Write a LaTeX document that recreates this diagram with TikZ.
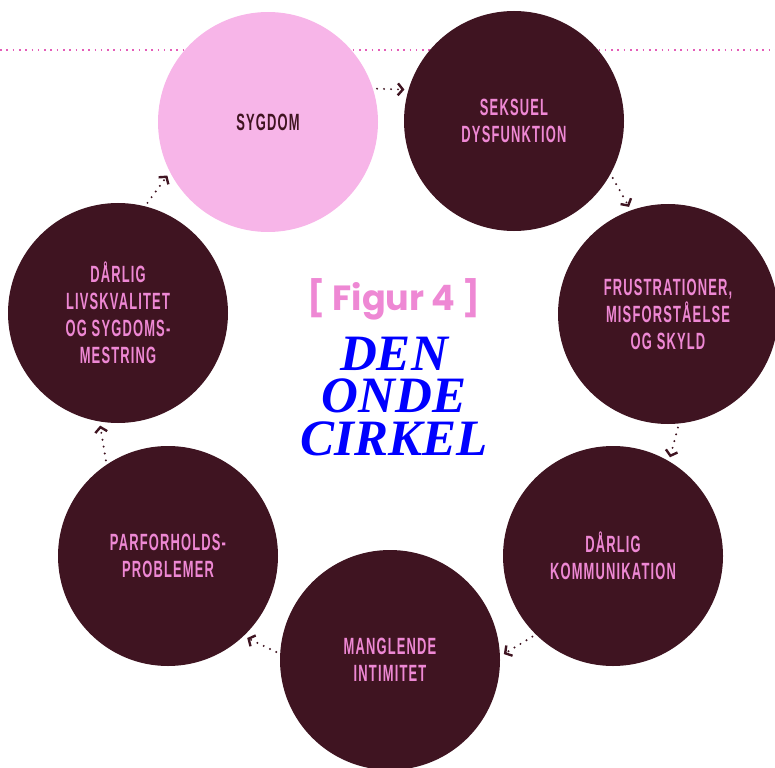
\documentclass[tikz,border=0pt]{standalone}
\usepackage{fontspec}
\usetikzlibrary{arrows.meta}
\newfontfamily\condfont{Liberation Sans}[FakeStretch=0.55,LetterSpace=5]
\newfontfamily\popfont{Poppins}
\newfontfamily\titlefont{Liberation Serif}
\definecolor{wine}{HTML}{3F1421}
\definecolor{lpink}{HTML}{F7B5E8}
\definecolor{tpink}{HTML}{EE88D4}
\definecolor{dotpink}{HTML}{E45DB8}
\definecolor{titleblue}{HTML}{0000FF}
\tikzset{
  bub/.style={circle, fill=wine, minimum size=220pt, inner sep=0pt, outer sep=4pt,
    text=tpink, font=\condfont\bfseries\fontsize{23.5}{27}\selectfont, align=center},
  cyc/.style={wine, line width=2.2pt, line cap=round, dash pattern=on 0pt off 7pt,
    -{Straight Barb[length=5pt,width=12pt,line width=2.4pt]}},
  ttl/.style={text=titleblue, font=\titlefont\bfseries\itshape\fontsize{51}{44}\selectfont,
    inner sep=0pt, text height=35pt, text depth=0pt, anchor=base}
}
\begin{document}
\begin{tikzpicture}[x=1pt,y=-1pt]
\useasboundingbox (0,0) rectangle (775,767);
\clip (0,0) rectangle (775,767);
\coordinate (lineL) at (0,50);
\coordinate (lineR) at (775,50);
\draw[dotpink, line width=1.6pt, dash pattern=on 1.6pt off 4.7pt] (lineL) -- (lineR);
\node[bub, fill=lpink, text=wine] (sygdom) at (268,122) {SYGDOM};
\node[bub] (seksuel) at (514,121) {SEKSUEL\\DYSFUNKTION};
\node[bub] (frust) at (668,314) {FRUSTRATIONER,\\MISFORSTÅELSE\\OG SKYLD};
\node[bub] (komm) at (613,556) {DÅRLIG\\KOMMUNIKATION};
\node[bub] (mangl) at (390,660) {MANGLENDE\\INTIMITET};
\node[bub] (parf) at (168,556) {PARFORHOLDS-\\PROBLEMER};
\node[bub] (livs) at (118,313) {DÅRLIG\\LIVSKVALITET\\OG SYGDOMS-\\MESTRING};
\draw[cyc] (sygdom.17) -- (seksuel.164);
\draw[cyc] (seksuel.-30) -- (frust.110);
\draw[cyc] (frust.-85) -- (komm.60);
\draw[cyc] (komm.-135) -- (mangl.3);
\draw[cyc] (mangl.176) -- (parf.-46);
\draw[cyc] (parf.123) -- (livs.-99);
\draw[cyc] (livs.75) -- (sygdom.208);
\node[text=tpink, font=\popfont\bfseries\fontsize{35}{38}\selectfont, inner sep=0pt] (fig) at (394,299) {[ Figur 4 ]};
\node[ttl] (den) at (394,370) {DEN};
\node[ttl] (onde) at (394,412) {ONDE};
\node[ttl] (cirkel) at (394,455) {CIRKEL};
\end{tikzpicture}
\end{document}
